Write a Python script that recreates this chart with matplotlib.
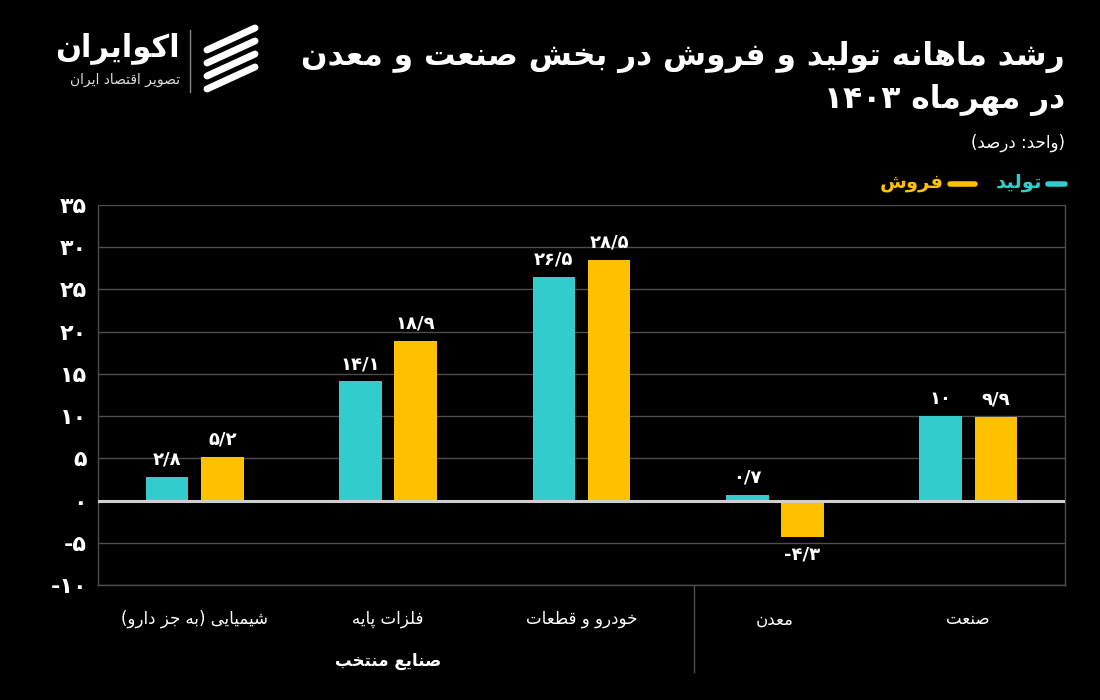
import re
import matplotlib
matplotlib.use("Agg")
import matplotlib.pyplot as plt
import numpy as np

# ---------------- data ----------------
categories = ["شیمیایی (به جز دارو)", "فلزات پایه", "خودرو و قطعات", "معدن", "صنعت"]
production = [2.8, 14.1, 26.5, 0.7, 10.0]
sales = [5.2, 18.9, 28.5, -4.3, 9.9]
production_labels = ["۲/۸", "۱۴/۱", "۲۶/۵", "۰/۷", "۱۰"]
sales_labels = ["۵/۲", "۱۸/۹", "۲۸/۵", "-۴/۳", "۹/۹"]
yticks = [35, 30, 25, 20, 15, 10, 5, 0, -5, -10]
ytick_labels = ["۳۵", "۳۰", "۲۵", "۲۰", "۱۵", "۱۰", "۵", "۰", "-۵", "-۱۰"]
series_names = ["تولید", "فروش"]
group_label = "صنایع منتخب"
title_line1 = "رشد ماهانه تولید و فروش در بخش صنعت و معدن"
title_line2 = "در مهرماه ۱۴۰۳"
unit_text = "(واحد: درصد)"
brand = "اکوایران"
brand_sub = "تصویر اقتصاد ایران"

TEAL = "#33CCCC"
YELLOW = "#FFC000"
BG = "#000000"
GRID = "#4d4d4d"

# ---------------- Persian shaping ----------------
FORMS = {
    'ا': ('\uFE8D', '\uFE8E', None, None), 'آ': ('\uFE81', '\uFE82', None, None),
    'أ': ('\uFE83', '\uFE84', None, None), 'إ': ('\uFE87', '\uFE88', None, None),
    'ب': ('\uFE8F', '\uFE90', '\uFE91', '\uFE92'), 'پ': ('\uFB56', '\uFB57', '\uFB58', '\uFB59'),
    'ت': ('\uFE95', '\uFE96', '\uFE97', '\uFE98'), 'ث': ('\uFE99', '\uFE9A', '\uFE9B', '\uFE9C'),
    'ج': ('\uFE9D', '\uFE9E', '\uFE9F', '\uFEA0'), 'چ': ('\uFB7A', '\uFB7B', '\uFB7C', '\uFB7D'),
    'ح': ('\uFEA1', '\uFEA2', '\uFEA3', '\uFEA4'), 'خ': ('\uFEA5', '\uFEA6', '\uFEA7', '\uFEA8'),
    'د': ('\uFEA9', '\uFEAA', None, None), 'ذ': ('\uFEAB', '\uFEAC', None, None),
    'ر': ('\uFEAD', '\uFEAE', None, None), 'ز': ('\uFEAF', '\uFEB0', None, None),
    'ژ': ('\uFB8A', '\uFB8B', None, None),
    'س': ('\uFEB1', '\uFEB2', '\uFEB3', '\uFEB4'), 'ش': ('\uFEB5', '\uFEB6', '\uFEB7', '\uFEB8'),
    'ص': ('\uFEB9', '\uFEBA', '\uFEBB', '\uFEBC'), 'ض': ('\uFEBD', '\uFEBE', '\uFEBF', '\uFEC0'),
    'ط': ('\uFEC1', '\uFEC2', '\uFEC3', '\uFEC4'), 'ظ': ('\uFEC5', '\uFEC6', '\uFEC7', '\uFEC8'),
    'ع': ('\uFEC9', '\uFECA', '\uFECB', '\uFECC'), 'غ': ('\uFECD', '\uFECE', '\uFECF', '\uFED0'),
    'ف': ('\uFED1', '\uFED2', '\uFED3', '\uFED4'), 'ق': ('\uFED5', '\uFED6', '\uFED7', '\uFED8'),
    'ک': ('\uFB8E', '\uFB8F', '\uFB90', '\uFB91'), 'گ': ('\uFB92', '\uFB93', '\uFB94', '\uFB95'),
    'ل': ('\uFEDD', '\uFEDE', '\uFEDF', '\uFEE0'), 'م': ('\uFEE1', '\uFEE2', '\uFEE3', '\uFEE4'),
    'ن': ('\uFEE5', '\uFEE6', '\uFEE7', '\uFEE8'), 'و': ('\uFEED', '\uFEEE', None, None),
    'ه': ('\uFEE9', '\uFEEA', '\uFEEB', '\uFEEC'), 'ی': ('\uFBFC', '\uFBFD', '\uFBFE', '\uFBFF'),
    'ي': ('\uFEF1', '\uFEF2', '\uFEF3', '\uFEF4'),
}


def shape(s):
    out = []
    n = len(s)
    for i, ch in enumerate(s):
        if ch not in FORMS:
            out.append(ch)
            continue
        f = FORMS[ch]
        prev = s[i - 1] if i > 0 else ''
        nxt = s[i + 1] if i < n - 1 else ''
        pj = prev in FORMS and FORMS[prev][2] is not None
        nj = nxt in FORMS and f[2] is not None
        if pj and nj:
            out.append(f[3])
        elif pj:
            out.append(f[1])
        elif nj:
            out.append(f[2])
        else:
            out.append(f[0])
    return ''.join(out)


MIRROR = {'(': ')', ')': '('}


def fa(s):
    shaped = shape(s)
    tokens = re.findall(r'[0-9\u06F0-\u06F9]+(?:[/.][0-9\u06F0-\u06F9]+)*|[^0-9\u06F0-\u06F9]+', shaped)
    res = []
    for t in reversed(tokens):
        if re.match(r'[0-9\u06F0-\u06F9]', t):
            res.append(t)
        else:
            res.append(''.join(MIRROR.get(c, c) for c in reversed(t)))
    return ''.join(res)


plt.rcParams['font.family'] = ['DejaVu Sans']

# ---------------- figure ----------------
fig = plt.figure(figsize=(11, 7), dpi=100, facecolor=BG)
ax = fig.add_axes([98 / 1100, 1 - 585 / 700, (1065 - 98) / 1100, (585 - 205) / 700])
ax.set_facecolor(BG)

x = np.arange(len(categories))
w = 0.22
off = 0.143
ax.bar(x - off, production, width=w, color=TEAL, zorder=3)
ax.bar(x + off, sales, width=w, color=YELLOW, zorder=3)

for xi, v, lab in zip(x, production, production_labels):
    ax.annotate(lab, (xi - off, v), xytext=(0, 6 if v >= 0 else -6), textcoords='offset points',
                ha='center', va='bottom' if v >= 0 else 'top', color='white', fontsize=13,
                fontweight='bold')
for xi, v, lab in zip(x, sales, sales_labels):
    ax.annotate(lab, (xi + off, v), xytext=(0, 6 if v >= 0 else -6), textcoords='offset points',
                ha='center', va='bottom' if v >= 0 else 'top', color='white', fontsize=13,
                fontweight='bold')

ax.set_xlim(-0.5, 4.5)
ax.set_ylim(-10, 35)
ax.set_yticks(yticks)
ax.set_yticklabels(ytick_labels, color='white', fontsize=16, fontweight='bold')
ax.tick_params(axis='y', length=0, pad=8)
ax.set_xticks([])
ax.grid(axis='y', color=GRID, linewidth=1, zorder=0)
ax.axhline(0, color='#cfcfcf', linewidth=2.2, zorder=4)
ax.spines['top'].set_visible(False)
for side in ['left', 'right', 'bottom']:
    ax.spines[side].set_color(GRID)
    ax.spines[side].set_linewidth(1)

# category labels
for xi, c in zip(x, categories):
    ax.text(xi, -0.09, fa(c), transform=ax.get_xaxis_transform(), ha='center', va='center',
            color='white', fontsize=12)
ax.text(1, -0.20, fa(group_label), transform=ax.get_xaxis_transform(), ha='center', va='center',
        color='white', fontsize=12, fontweight='bold')
ax.plot([2.58, 2.58], [0, -0.23], transform=ax.get_xaxis_transform(), color=GRID,
        linewidth=1, clip_on=False)

# titles
fig.text(1065 / 1100, 1 - 57 / 700, fa(title_line1), ha='right', va='center', color='white',
         fontsize=22.5, fontweight='bold')
fig.text(1065 / 1100, 1 - 100 / 700, fa(title_line2), ha='right', va='center', color='white',
         fontsize=22.5, fontweight='bold')
fig.text(1065 / 1100, 1 - 143 / 700, fa(unit_text), ha='right', va='center', color='white',
         fontsize=12)

# legend
fig.lines.append(plt.Line2D([1048 / 1100, 1065 / 1100], [1 - 184 / 700] * 2, transform=fig.transFigure,
                            color=TEAL, linewidth=4, solid_capstyle='round'))
fig.text(1042 / 1100, 1 - 183 / 700, fa(series_names[0]), ha='right', va='center', color=TEAL,
         fontsize=14, fontweight='bold')
fig.lines.append(plt.Line2D([950 / 1100, 975 / 1100], [1 - 184 / 700] * 2, transform=fig.transFigure,
                            color=YELLOW, linewidth=4, solid_capstyle='round'))
fig.text(944 / 1100, 1 - 183 / 700, fa(series_names[1]), ha='right', va='center', color=YELLOW,
         fontsize=14, fontweight='bold')

# brand
fig.text(180 / 1100, 1 - 48 / 700, fa(brand), ha='right', va='center', color='white',
         fontsize=22, fontweight='bold')
fig.text(180 / 1100, 1 - 80 / 700, fa(brand_sub), ha='right', va='center', color='#dddddd',
         fontsize=10)
fig.lines.append(plt.Line2D([190 / 1100, 190 / 1100], [1 - 30 / 700, 1 - 92 / 700],
                            transform=fig.transFigure, color='#888888', linewidth=1))
# logo icon: stylised diagonal stripes
for k in range(4):
    yb = 1 - (50 + k * 13) / 700
    fig.lines.append(plt.Line2D([207 / 1100, 255 / 1100], [yb, yb + 22 / 700],
                                transform=fig.transFigure, color='white', linewidth=5,
                                solid_capstyle='round'))

fig.savefig("out.png", dpi=100, facecolor=BG)
